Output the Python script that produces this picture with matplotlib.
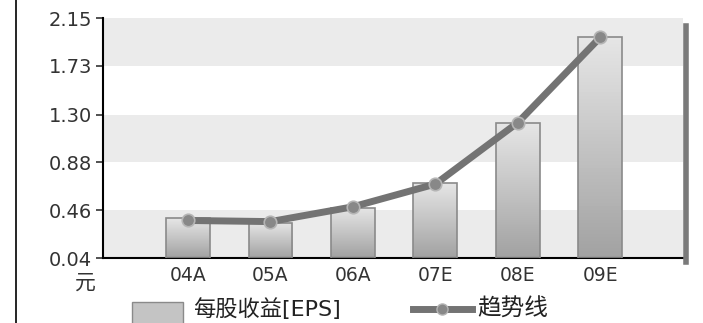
import numpy as np
import matplotlib
matplotlib.use('Agg')
import matplotlib.pyplot as plt
from matplotlib.patches import Rectangle
from matplotlib.lines import Line2D
from matplotlib.colors import LinearSegmentedColormap

plt.rcParams['font.family'] = ['DejaVu Sans', 'Noto Sans CJK SC']

# data
years = ['04A', '05A', '06A', '07E', '08E', '09E']
eps = [0.39, 0.35, 0.48, 0.70, 1.23, 1.98]
trend = [0.37, 0.36, 0.49, 0.69, 1.23, 1.98]
yticks = [0.04, 0.46, 0.88, 1.30, 1.73, 2.15]
unit = '元'
bar_label = '每股收益[EPS]'
line_label = '趋势线'

W, H = 703, 323
fig = plt.figure(figsize=(W / 100, H / 100), dpi=100)
ax = fig.add_axes([103 / W, 1 - 258 / H, (686 - 103) / W, 240 / H])

x = np.arange(len(years))

# alternating background bands
for i in range(len(yticks) - 1):
    if i % 2 == 0:
        ax.axhspan(yticks[i], yticks[i + 1], xmax=0.995, color='#ebebeb',
                   zorder=0, lw=0)

# bars with a vertical gradient
cmap = LinearSegmentedColormap.from_list('bar', ['#a2a2a2', '#e6e6e6'])
grad = np.linspace(0, 1, 64).reshape(-1, 1)
bars = ax.bar(x, [v - yticks[0] for v in eps], bottom=yticks[0], width=0.53,
              facecolor='none', edgecolor='#8a8a8a', linewidth=1.2, zorder=3)
for b in bars:
    x0, y0 = b.get_x(), b.get_y()
    w, h = b.get_width(), b.get_height()
    im = ax.imshow(grad, extent=[x0, x0 + w, y0, y0 + h], origin='lower',
                   cmap=cmap, aspect='auto', zorder=2)
    im.set_clip_path(b)

ax.plot(x, trend, color='#737373', lw=5, marker='o', markersize=9,
        markerfacecolor='#888888', markeredgecolor='#b5b5b5',
        markeredgewidth=1.2, zorder=4, solid_capstyle='round')

ax.set_xlim(-1.03, 6.04)
ax.set_ylim(yticks[0], yticks[-1])
ax.set_yticks(yticks)
ax.set_yticklabels(['%.2f' % v for v in yticks])
ax.set_xticks(x)
ax.set_xticklabels(years)
ax.tick_params(axis='y', labelsize=14, colors='#333333', length=5, width=1.2,
               pad=3)
ax.tick_params(axis='x', labelsize=13.5, colors='#333333', length=3, width=1,
               pad=6, direction='in')

ax.spines['top'].set_visible(False)
ax.spines['right'].set_visible(False)
ax.spines['left'].set_linewidth(1.5)
ax.spines['bottom'].set_linewidth(1.5)
ax.set_facecolor('white')

fig.text(85 / W, 1 - 283 / H, unit, fontsize=15, ha='center', va='center',
         color='#333333')

# frame line on the left and shaded wall on the right
fig.add_artist(Line2D([16 / W, 16 / W], [0, 1], color='black', lw=1.2))
fig.add_artist(Line2D([686 / W, 686 / W], [1 - 262 / H, 1 - 26 / H],
                      color='#7a7a7a', lw=4))

# legend along the bottom edge
ly = 1 - 309 / H
fig.add_artist(Rectangle((132 / W, 1 - 324 / H), 51 / W, 22 / H,
                         facecolor='#c4c4c4', edgecolor='#8a8a8a', lw=1))
fig.text(193 / W, ly, bar_label, fontsize=16, ha='left', va='center',
         color='#222222')
fig.add_artist(Line2D([413 / W, 472 / W], [ly, ly], color='#737373', lw=5))
fig.add_artist(Line2D([442 / W], [ly], color='#888888', marker='o',
                      markersize=8, markeredgecolor='#b5b5b5'))
fig.text(477 / W, ly, line_label, fontsize=17, ha='left', va='center',
         color='#222222')

fig.savefig('out.png', dpi=100)
